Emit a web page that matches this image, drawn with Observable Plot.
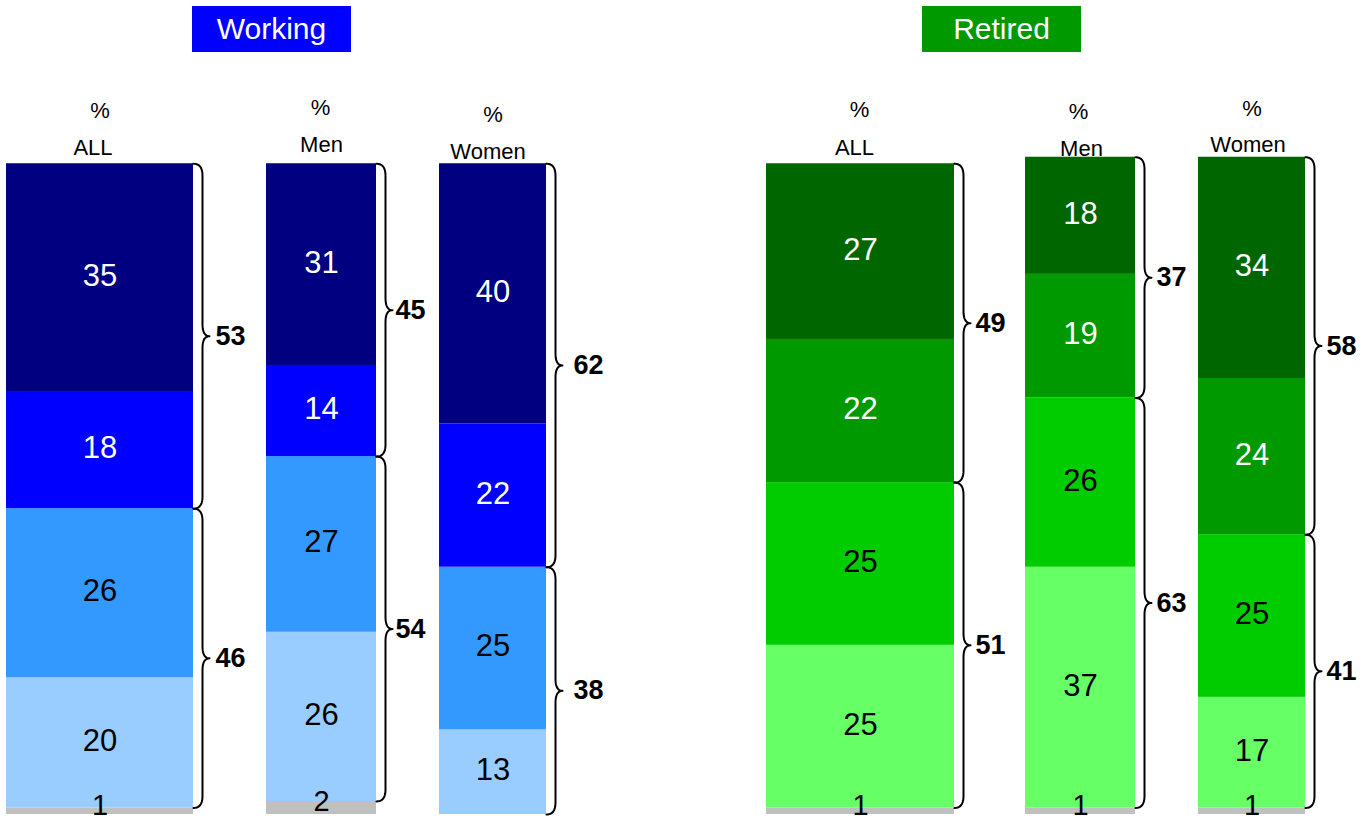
<!DOCTYPE html>
<html><head><meta charset="utf-8">
<script src="https://cdn.jsdelivr.net/npm/d3@7"></script>
<script src="https://cdn.jsdelivr.net/npm/@observablehq/plot@0.6"></script>
<style>
body{margin:0;background:#fff;font-family:"Liberation Sans",Arial,sans-serif;}
#wrap{position:relative;width:1363px;height:825px;overflow:hidden;}
.title{position:absolute;top:6px;height:46px;width:159px;color:#fff;font-size:30px;text-align:center;line-height:46px;}
#chart{position:absolute;left:0;top:0;}
</style></head><body>
<div id="wrap"><div id="chart"></div></div>
<script>
// ---- data ----
const groups = ["Working","Working","Working","Retired","Retired","Retired"];
const subgroups = ["ALL","Men","Women","ALL","Men","Women"];
const seg1 = [35,31,40,27,18,34];
const seg2 = [18,14,22,22,19,24];
const seg3 = [26,27,25,25,26,25];
const seg4 = [20,26,13,25,37,17];
const other = [1,2,0,1,1,1];
const netTop = [53,45,62,49,37,58];
const netBottom = [46,54,38,51,63,41];
const titles = ["Working","Retired"];

// ---- styles ----
const titleColors = {Working:"#0000FF", Retired:"#009900"};
const palette = {
  Working: ["#000080","#0000FF","#3399FF","#99CCFF","#C0C0C0"],
  Retired: ["#006600","#009900","#00CC00","#66FF66","#C0C0C0"]
};
const textColors = ["#ffffff","#ffffff","#000000","#000000","#000000"];
const FONT = '"Liberation Sans", Arial, sans-serif';

// ---- layout ----
const W = 1363, H = 825;
const barLeft  = [6,266,439,766,1025,1198];
const barRight = [193,376,546,954,1135,1305];
const pctDy   = [-53,-56,-49,-54,-45,-48];
const labelDy = [-16,-19,-12,-16,-8,-12];
const pctDx   = [0,-1,0,-1,-2,0];
const labelDx = [-7,0,-5,-6,1,-4];
const braceLabelOffset = [22,19,27,21,21,21];
const titleLeft = {Working:192, Retired:922};
const yBottomPx = 814, yTopPx = 160, yMax = 100.5;
const ppu = (yBottomPx - yTopPx) / yMax;

// title boxes
const wrap = document.getElementById("wrap");
titles.forEach(t => {
  const d = document.createElement("div");
  d.className = "title";
  d.style.left = titleLeft[t] + "px";
  d.style.background = titleColors[t];
  d.textContent = t;
  wrap.appendChild(d);
});

// ---- build tables ----
const segs = [];
const bars = [];
const braceLabels = [];
const bracePts = [];
const braceW = 9, braceT = 16, braceR = 12;
function quad(p0, c, p1, id, n=10) {
  for (let k = 0; k <= n; k++) {
    const s = k / n;
    const x = (1-s)*(1-s)*p0[0] + 2*(1-s)*s*c[0] + s*s*p1[0];
    const y = (1-s)*(1-s)*p0[1] + 2*(1-s)*s*c[1] + s*s*p1[1];
    bracePts.push({x, y, id});
  }
}
function brace(xe, vt, vb, id) {
  const ru = braceR / ppu;
  const vm = (vt + vb) / 2;
  const xv = xe + braceW, xt = xe + braceT;
  quad([xe, vt], [xv, vt], [xv, vt - ru], id);
  quad([xv, vm + ru], [xv, vm], [xt, vm], id);
  quad([xt, vm], [xv, vm], [xv, vm - ru], id);
  quad([xv, vb + ru], [xv, vb], [xe, vb], id);
}

groups.forEach((g, i) => {
  const vals = [other[i], seg4[i], seg3[i], seg2[i], seg1[i]];
  const colIdx = [4, 3, 2, 1, 0];
  let acc = 0;
  vals.forEach((v, j) => {
    if (v > 0) {
      segs.push({bar: i, x1: barLeft[i], x2: barRight[i], y1: acc, y2: acc + v, value: v,
        fill: palette[g][colIdx[j]], color: textColors[colIdx[j]], small: j === 0});
    }
    acc += v;
  });
  const total = acc;
  bars.push({i, total, xc: (barLeft[i] + barRight[i]) / 2, sub: subgroups[i]});
  const lowTop = other[i] + seg4[i] + seg3[i];
  brace(barRight[i], total, lowTop, "t" + i);
  brace(barRight[i], lowTop, other[i], "b" + i);
  braceLabels.push({x: barRight[i] + braceLabelOffset[i], y: (total + lowTop) / 2, label: netTop[i]});
  braceLabels.push({x: barRight[i] + braceLabelOffset[i], y: (lowTop + other[i]) / 2, label: netBottom[i]});
});

const headerMarks = bars.flatMap(b => [
  Plot.text([b], {x: d => d.xc, y: "total", text: () => "%", dx: pctDx[b.i], dy: pctDy[b.i],
    fontSize: 22, fill: "#000", fontFamily: FONT}),
  Plot.text([b], {x: d => d.xc, y: "total", text: "sub", dx: labelDx[b.i], dy: labelDy[b.i],
    fontSize: 22, fill: "#000", fontFamily: FONT})
]);

const chart = Plot.plot({
  width: W, height: H,
  marginTop: 0, marginBottom: 0, marginLeft: 0, marginRight: 0,
  style: {background: "transparent", fontFamily: FONT, overflow: "visible"},
  x: {domain: [0, W], range: [0, W], axis: null},
  y: {domain: [0, yMax], range: [yBottomPx, yTopPx], axis: null},
  marks: [
    Plot.rect(segs, {x1: "x1", x2: "x2", y1: "y1", y2: "y2", fill: "fill"}),
    Plot.text(segs.filter(d => !d.small), {x: d => (d.x1 + d.x2) / 2, y: d => (d.y1 + d.y2) / 2,
      text: d => String(d.value), fill: "color", fontSize: 31, fontFamily: FONT, dy: -2}),
    Plot.text(segs.filter(d => d.small), {x: d => (d.x1 + d.x2) / 2, y: d => (d.y1 + d.y2) / 2,
      text: d => String(d.value), fill: "color", fontSize: 29, fontFamily: FONT, dy: -6}),
    Plot.line(bracePts, {x: "x", y: "y", z: "id", stroke: "#000", strokeWidth: 2, curve: "linear"}),
    Plot.text(braceLabels, {x: "x", y: "y", text: d => String(d.label), textAnchor: "start",
      fontSize: 27, fontWeight: "bold", fill: "#000", fontFamily: FONT}),
    ...headerMarks
  ]
});
document.getElementById("chart").appendChild(chart);
</script>
</body></html>
